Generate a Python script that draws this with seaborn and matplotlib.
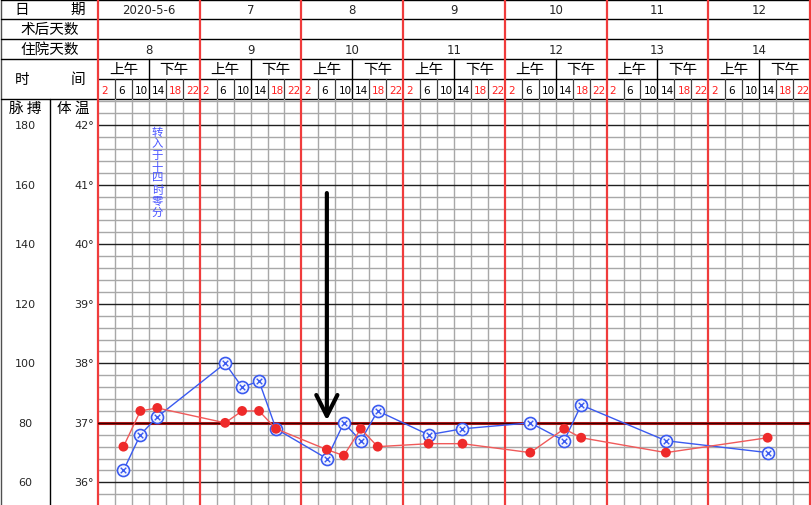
import numpy as np
import pandas as pd
import seaborn as sns
import matplotlib
matplotlib.use('Agg')
import matplotlib.pyplot as plt
from matplotlib import transforms

# header data
dates = ['2020-5-6', '7', '8', '9', '10', '11', '12']
stay_days = ['8', '9', '10', '11', '12', '13', '14']
hours = ['2', '6', '10', '14', '18', '22']
hour_red = [True, False, False, False, True, True]

# measurements (slot = 4-hour column index counted from the first day)
temp_slot = [1, 2, 3, 7, 8, 9, 10, 13, 14, 15, 16, 19, 21, 25, 27, 28, 33, 39]
temp_val = [36.2, 36.8, 37.1, 38.0, 37.6, 37.7, 36.9, 36.4, 37.0, 36.7, 37.2,
            36.8, 36.9, 37.0, 36.7, 37.3, 36.7, 36.5]
pulse_slot = [1, 2, 3, 7, 8, 9, 10, 13, 14, 15, 16, 19, 21, 25, 27, 28, 33, 39]
pulse_val = [72, 84, 85, 80, 84, 84, 78, 71, 69, 78, 72, 73, 73, 70, 78, 75, 70, 75]

pulse_ticks = [180, 160, 140, 120, 100, 80, 60]
temp_ticks = [42, 41, 40, 39, 38, 37, 36]

note_text = '转入于十四时零分'
note_slot = 3
arrow_slot = 13
arrow_top, arrow_tip = 40.86, 37.04

RED = '#f03c3c'
GRAY = '#a8a8a8'
BLUE = '#3a5af0'

sns.set_style('white')
plt.rcParams['font.family'] = ['Noto Sans CJK SC', 'DejaVu Sans']

W, H = 811, 506
X0, X1 = 98, 810
TOP = 100
NS = 42
day_w = (X1 - X0) / 7
slot_w = (X1 - X0) / NS
T_LO, T_HI = 35.62, 42.44

fig = plt.figure(figsize=(8.11, 5.06), dpi=100)

# header / left column in pixel coords
hdr = fig.add_axes([0, 0, 1, 1])
hdr.set_xlim(0, W)
hdr.set_ylim(H, 0)
hdr.axis('off')

# chart grid area
ax = fig.add_axes([X0 / W, 0, (X1 - X0) / W, (H - TOP) / H])

# table lines
hdr.plot([1, 1], [0, H], color='#505050', lw=1)
for y in [1, 20, 40, 60, 100]:
    hdr.plot([1, X1], [y, y], color='black', lw=1)
hdr.plot([X0, X1], [80, 80], color='black', lw=1)
hdr.plot([50, 50], [TOP, H], color='black', lw=1)
for s in range(NS + 1):
    x = X0 + s * slot_w
    if s % 6 == 0:
        hdr.plot([x, x], [0, TOP], color=RED, lw=1.6, zorder=5)
    elif s % 6 == 3:
        hdr.plot([x, x], [60, TOP], color='black', lw=1)
    else:
        hdr.plot([x, x], [80, TOP], color='#404040', lw=0.9)

# header texts
lab = dict(fontsize=10.5, ha='center', va='center', color='black')
hdr.text(22, 10, '日', **lab)
hdr.text(78, 10, '期', **lab)
hdr.text(50, 30, '术后天数', **lab)
hdr.text(50, 50, '住院天数', **lab)
hdr.text(22, 80, '时', **lab)
hdr.text(78, 80, '间', **lab)
hdr.text(25, 109, '脉 搏', **lab)
hdr.text(73, 109, '体 温', **lab)

for d in range(7):
    xs = X0 + d * day_w
    hdr.text(xs + day_w / 2, 10, dates[d], fontsize=8.5, ha='center', va='center',
             family='DejaVu Sans')
    hdr.text(xs + day_w / 2, 50, stay_days[d], fontsize=8.5, ha='center', va='center',
             family='DejaVu Sans')
    hdr.text(xs + day_w / 4, 70, '上午', **lab)
    hdr.text(xs + 3 * day_w / 4, 70, '下午', **lab)
    for h in range(6):
        hdr.text(xs + h * slot_w + 3, 90.5, hours[h], fontsize=7.5, ha='left', va='center',
                 family='DejaVu Sans', color='#ff2020' if hour_red[h] else 'black')

# left axis labels, placed on the temperature scale
blend = transforms.blended_transform_factory(hdr.transData, ax.transData)
for p, t in zip(pulse_ticks, temp_ticks):
    hdr.text(25, t, str(p), transform=blend, fontsize=8, ha='center', va='center',
             family='DejaVu Sans')
    hdr.text(94, t, f'{t}°', transform=blend, fontsize=8, ha='right', va='center',
             family='DejaVu Sans')

# grid
for t in np.round(np.arange(35.8, 42.5, 0.2), 1):
    if abs(t - 37) < 1e-6:
        continue
    if abs(t - round(t)) < 1e-6:
        ax.axhline(t, color='#202020', lw=1.0, zorder=2)
    else:
        ax.axhline(t, color=GRAY, lw=1.0, zorder=1)
for s in range(NS + 1):
    if s % 6 == 0:
        ax.axvline(s, color=RED, lw=1.6, zorder=3, clip_on=False)
    else:
        ax.axvline(s, color=GRAY, lw=1.0, zorder=1)
ax.axhline(37, color='#c41c1c', lw=2.2, zorder=3)
ax.axhline(37, color='#3a0000', lw=1.0, zorder=3)

# temperature series
df_t = pd.DataFrame({'slot': np.array(temp_slot) + 0.5, 'temp': temp_val})
sns.lineplot(data=df_t, x='slot', y='temp', ax=ax, color=BLUE, lw=1.0, zorder=5,
             legend=False)
sns.scatterplot(data=df_t, x='slot', y='temp', ax=ax, marker='o', s=75,
                facecolor='#f4f6ff', edgecolor=BLUE, linewidth=1.2, zorder=6, legend=False)
sns.scatterplot(data=df_t, x='slot', y='temp', ax=ax, marker='x', s=16,
                color=BLUE, linewidth=1.0, zorder=7, legend=False)

# admission note and arrow
for i, ch in enumerate(note_text):
    y_t = T_HI - (26 + 1 + 11.5 * (i + 0.5)) / 59.6
    ax.text(note_slot + 0.5, y_t, ch, fontsize=8.2, color='#4a55ff', ha='center',
            va='center', zorder=8)
ax.annotate('', xy=(arrow_slot + 0.5, arrow_tip), xytext=(arrow_slot + 0.5, arrow_top),
            arrowprops=dict(arrowstyle='->,head_length=0.75,head_width=0.38',
                            mutation_scale=20, lw=3, color='black',
                            shrinkA=0, shrinkB=0), zorder=9)

ax.set_xlim(0, NS)
ax.set_ylim(T_LO, T_HI)
ax.axis('off')

# pulse series on the matching pulse scale
ax2 = ax.twinx()
df_p = pd.DataFrame({'slot': np.array(pulse_slot) + 0.5, 'pulse': pulse_val})
sns.lineplot(data=df_p, x='slot', y='pulse', ax=ax2, color='#f05a5a', lw=1.0, zorder=5,
             legend=False)
sns.scatterplot(data=df_p, x='slot', y='pulse', ax=ax2, marker='o', s=50,
                color='#ee2a2a', edgecolor='none', zorder=6, legend=False)
ax2.set_xlim(0, NS)
ax2.set_ylim(80 + (T_LO - 37) * 20, 80 + (T_HI - 37) * 20)
ax2.axis('off')

fig.savefig('out.png', dpi=100)
